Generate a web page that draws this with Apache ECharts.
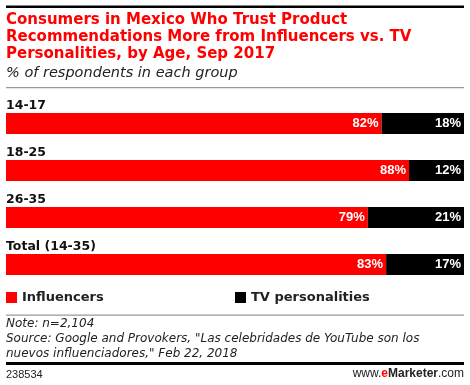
<!DOCTYPE html>
<html><head><meta charset="utf-8">
<script src="https://cdn.jsdelivr.net/npm/echarts@6/dist/echarts.min.js"></script>
<style>html,body{margin:0;padding:0;background:#fff}#c{width:470px;height:385px}</style>
</head><body><div id="c"></div>
<script>
var categories = ['14-17', '18-25', '26-35', 'Total (14-35)'];
var influencers = [82, 88, 79, 83];
var tvPersonalities = [18, 12, 21, 17];
var seriesNames = ['Influencers', 'TV personalities'];

var chart = echarts.init(document.getElementById('c'));
var FONT = 'Liberation Sans';
var DJ = 'DejaVu Sans';
var labelStyle = {
  show: true, position: 'insideRight', distance: 3,
  color: '#fff', fontFamily: FONT, fontWeight: 'bold', fontSize: 13,
  formatter: function (p) { return p.value + '%'; }
};
chart.setOption({
  animation: false,
  graphic: [
    { type: 'rect', shape: { x: 6, y: 5.5, width: 458, height: 2.5 }, style: { fill: '#000' } },
    { type: 'text', left: 6, top: 12, style: {
        text: 'Consumers in Mexico Who Trust Product\nRecommendations More from Influencers vs. TV\nPersonalities, by Age, Sep 2017',
        font: 'bold 15px ' + DJ, fill: '#ff0000', lineHeight: 16.7 } },
    { type: 'text', left: 6, top: 66, style: {
        text: '% of respondents in each group', font: 'oblique 14.5px ' + DJ, fill: '#222' } },
    { type: 'rect', shape: { x: 6, y: 87, width: 458, height: 1.2 }, style: { fill: '#999' } },
    { type: 'rect', shape: { x: 6, y: 314.5, width: 458, height: 1.2 }, style: { fill: '#999' } },
    { type: 'text', left: 6, top: 317, style: {
        text: 'Note: n=2,104\nSource: Google and Provokers, "Las celebridades de YouTube son los\nnuevos influenciadores," Feb 22, 2018',
        font: 'oblique 12px ' + DJ, fill: '#222', lineHeight: 14.7 } },
    { type: 'rect', shape: { x: 6, y: 362, width: 458, height: 3 }, style: { fill: '#000' } },
    { type: 'text', left: 6, top: 369, style: { text: '238534', font: '11px ' + FONT, fill: '#222' } },
    { type: 'text', right: 6, top: 368, style: {
        text: '{a|www.}{e|e}{b|Marketer}{a|.com}',
        rich: {
          a: { font: '12px ' + FONT, fill: '#222' },
          e: { font: 'bold 12px ' + FONT, fill: '#ff0000' },
          b: { font: 'bold 12px ' + FONT, fill: '#222' }
        } } }
  ],
  legend: [
    { data: [seriesNames[0]], left: 6, top: 291, padding: 0, icon: 'rect', itemWidth: 11, itemHeight: 11,
      textStyle: { fontFamily: DJ, fontWeight: 'bold', fontSize: 13, color: '#222' } },
    { data: [seriesNames[1]], left: 235, top: 291, padding: 0, icon: 'rect', itemWidth: 11, itemHeight: 11,
      textStyle: { fontFamily: DJ, fontWeight: 'bold', fontSize: 13, color: '#222' } }
  ],
  grid: { left: 6, right: 6, top: 100, height: 188, containLabel: false },
  xAxis: { type: 'value', min: 0, max: 100, show: false },
  yAxis: {
    type: 'category', data: categories, inverse: true,
    axisLine: { show: false }, axisTick: { show: false },
    axisLabel: { inside: true, margin: 0, align: 'left', verticalAlign: 'bottom',
      padding: [0, 0, 11, 0], color: '#111', fontFamily: DJ, fontWeight: 'bold', fontSize: 12.5 }
  },
  series: [
    { name: seriesNames[0], type: 'bar', stack: 't', data: influencers, barWidth: 21,
      itemStyle: { color: '#ff0000' }, label: labelStyle },
    { name: seriesNames[1], type: 'bar', stack: 't', data: tvPersonalities, barWidth: 21,
      itemStyle: { color: '#000' }, label: labelStyle }
  ]
});
</script></body></html>
